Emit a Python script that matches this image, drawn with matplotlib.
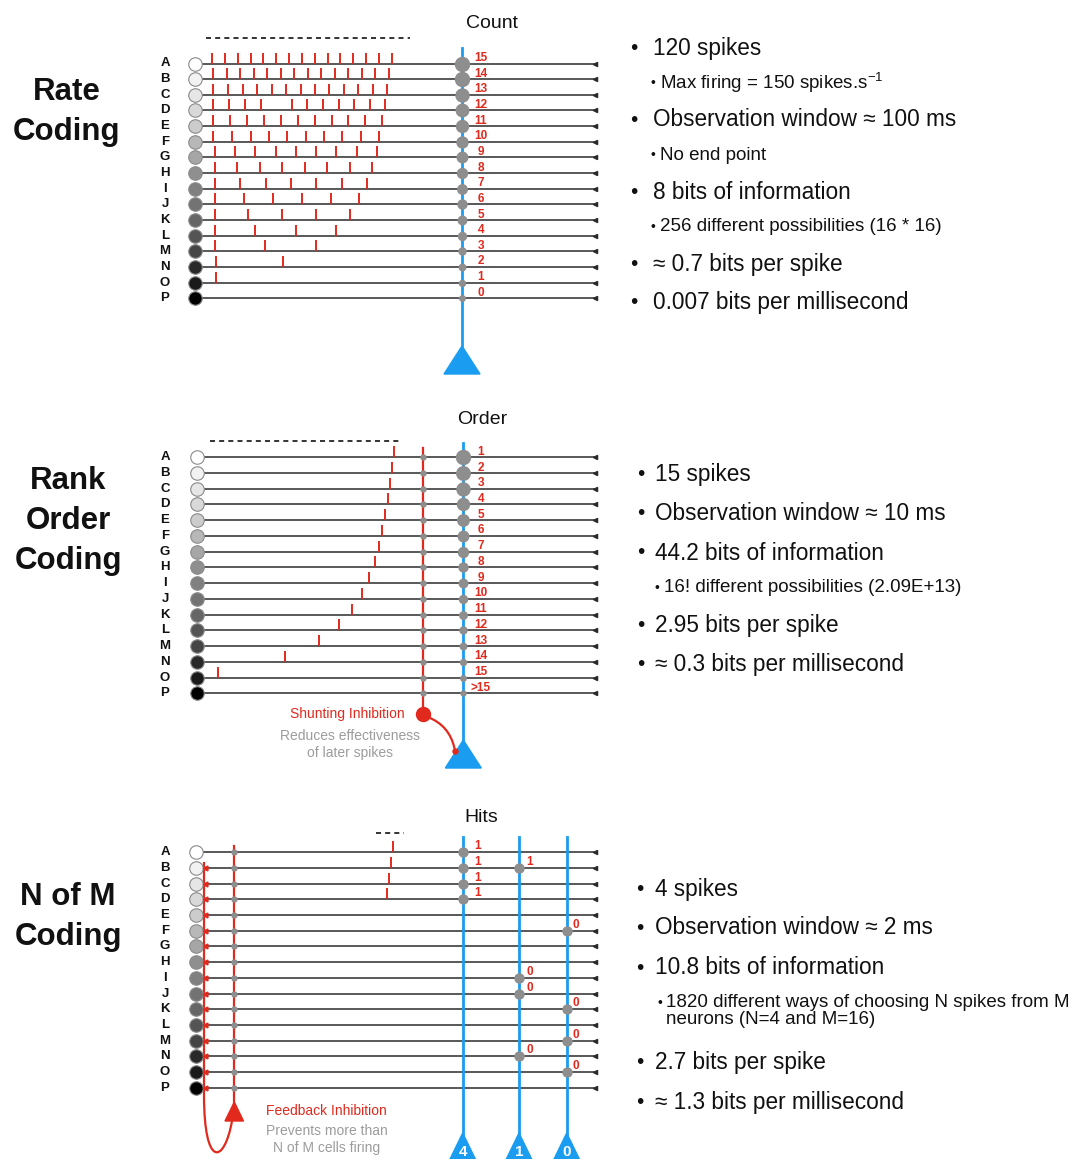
import matplotlib.pyplot as plt
from matplotlib.path import Path
from matplotlib.patches import PathPatch, Polygon, FancyArrowPatch

plt.rcParams['font.family'] = ['Liberation Sans', 'DejaVu Sans']
plt.rcParams['mathtext.fontset'] = 'custom'
plt.rcParams['mathtext.rm'] = 'Liberation Sans'

RED = '#e2291d'
BLUE = '#1a9cf0'
DOT = '#8e8e8e'
LINE = '#2b2b2b'
GRAYTXT = '#9c9c9c'
TXT = '#111111'

# ---- data ----
rows = list('ABCDEFGHIJKLMNOP')
row_fill = [1.0, 0.95, 0.90, 0.85, 0.80, 0.72, 0.65, 0.56, 0.50, 0.45, 0.40, 0.33, 0.27, 0.16, 0.10, 0.0]

# rate coding: spike x positions (px) per neuron
rate_spikes = [
    [211.7, 225, 237.7, 250.7, 263.3, 276, 289, 301.7, 314.7, 327.7, 340.3, 353.3, 366, 379, 392],
    [213.3, 226.7, 240, 253.7, 267, 280.7, 294, 307.7, 321, 334.7, 348, 361.7, 375.3, 389],
    [213.3, 228.3, 242.7, 257, 271.7, 286, 300.7, 315, 329.3, 344, 358.3, 373, 387.3],
    [213.3, 229.3, 245, 260.7, 292.3, 307.3, 323, 338.7, 354, 369.7, 385.3],
    [213.3, 230, 247, 264, 280.7, 297.7, 314.7, 331.7, 348.3, 365.3, 382.3],
    [213.3, 232, 250.7, 269, 287.3, 305.7, 324, 342.3, 361, 379.3],
    [215, 235, 255.3, 275.7, 295.7, 316, 336.3, 356.7, 377],
    [215, 237.3, 259.7, 282.3, 304.7, 327, 349.7, 372.3],
    [215, 240.3, 265.7, 291, 316.3, 341.7, 367],
    [215, 243.7, 272.7, 301.7, 330.7, 359.3],
    [215, 248.3, 282.3, 316, 349.7],
    [215, 255.3, 295.7, 336],
    [215, 265.3, 316.3],
    [215.7, 283.3],
    [215.7],
    [],
]
rate_counts = ['15', '14', '13', '12', '11', '10', '9', '8', '7', '6', '5', '4', '3', '2', '1', '0']
rate_dot = [14, 14, 13, 12.5, 12, 11, 10.5, 10, 9.5, 9, 8.5, 8, 7, 6.5, 6, 5.5]

# rank order coding: one spike per neuron (px), P never fires
rank_spikes = [394.3, 391.7, 389.7, 387.7, 385, 382, 379.3, 375, 369.3, 362, 352, 339, 318.7, 285.3, 218.3, None]
rank_labels = ['1', '2', '3', '4', '5', '6', '7', '8', '9', '10', '11', '12', '13', '14', '15', '>15']
rank_dot = [14, 13.5, 13, 12, 11.5, 10.5, 10, 9, 8.5, 8, 7.5, 7, 6.5, 6, 5.5, 5]

# N of M coding
nofm_spikes = [393.3, 390.7, 388.7, 387.3]          # rows A-D
hit_x = [462.7, 519, 566.7]
hit_names = ['4', '1', '0']
hit_rows = [['A', 'B', 'C', 'D'], ['B', 'I', 'J', 'N'], ['F', 'K', 'M', 'O']]
hit_vals = [['1', '1', '1', '1'], ['1', '0', '0', '0'], ['0', '0', '0', '0']]
hit_lbl_dx = [15, 11, 9]

rate_text = [(48, 0, '120 spikes'), (83, 1, 'Max firing = 150 spikes.s$^{\\mathregular{-1}}$'),
             (120, 0, 'Observation window \u2248 100 ms'), (155, 1, 'No end point'),
             (192.5, 0, '8 bits of information'), (226.5, 1, '256 different possibilities (16 * 16)'),
             (264, 0, '\u2248 0.7 bits per spike'), (303, 0, '0.007 bits per millisecond')]
rank_text = [(475, 0, '15 spikes'), (513.5, 0, 'Observation window \u2248 10 ms'),
             (553, 0, '44.2 bits of information'), (588, 1, '16! different possibilities (2.09E+13)'),
             (625.5, 0, '2.95 bits per spike'), (665, 0, '\u2248 0.3 bits per millisecond')]
nofm_text = [(889.5, 0, '4 spikes'), (928, 0, 'Observation window \u2248 2 ms'),
             (968, 0, '10.8 bits of information'), (1002.5, 1, '1820 different ways of choosing N spikes from M'),
             (1020, 2, 'neurons (N=4 and M=16)'),
             (1062.5, 0, '2.7 bits per spike'), (1102.5, 0, '\u2248 1.3 bits per millisecond')]

fig = plt.figure(figsize=(10.79, 11.59), dpi=100)
ax = fig.add_axes([0, 0, 1, 1])
ax.set_xlim(0, 1079)
ax.set_ylim(1159, 0)
ax.axis('off')

PX = 0.72  # points per pixel at 100 dpi


def row_block(top, step, cx):
    ys = [top + i * step for i in range(16)]
    for i, y in enumerate(ys):
        ax.plot([cx, 595], [y, y], color=LINE, lw=1.1, zorder=1)
        ax.plot(595, y, marker='<', ms=3, color=LINE, zorder=1)
        g = row_fill[i]
        ax.plot(cx, y, 'o', ms=13.5 * PX, mfc=(g, g, g), mec='#8a8a8a', mew=0.8, zorder=5)
        ax.text(165, y, rows[i], ha='center', va='center', fontsize=9.5, fontweight='bold', color=TXT)
    return ys


def bullets(items, bx, tx, sbx, stx):
    for y, lvl, s in items:
        if lvl == 0:
            ax.text(bx, y, '\u2022', ha='center', va='center', fontsize=15, color=TXT)
            ax.text(tx, y, s, ha='left', va='center', fontsize=16.3, color=TXT)
        else:
            if lvl == 1:
                ax.text(sbx, y, '\u2022', ha='center', va='center', fontsize=10, color=TXT)
            ax.text(stx, y, s, ha='left', va='center', fontsize=13.5, color=TXT)


def neuron(x, top, apex, base, hw, label=None):
    ax.plot([x, x], [top, apex + 2], color=BLUE, lw=2, zorder=2)
    ax.add_patch(Polygon([(x - hw, base), (x + hw, base), (x, apex)], closed=True, color=BLUE, zorder=6))
    if label is not None:
        ax.text(x, apex + 19, label, ha='center', va='center', color='white', fontsize=11,
                fontweight='bold', zorder=7)


# ---------- Rate coding ----------
for s, y in zip(['Rate', 'Coding'], [92, 132]):
    ax.text(67, y, s, ha='center', va='center', fontsize=22.5, fontweight='bold', color=TXT)
ax.text(492, 23, 'Count', ha='center', va='center', fontsize=14, color=TXT)
ax.plot([206, 410], [38, 38], color=TXT, lw=1.2, ls=(0, (3, 2.5)))
ys = row_block(63.5, 15.65, 195)
neuron(462, 48, 346, 374, 18)
for i, y in enumerate(ys):
    ax.vlines(rate_spikes[i], y - 11, y, color=RED, lw=1.4, zorder=3)
    ax.plot(462, y, 'o', ms=rate_dot[i] * PX, color=DOT, zorder=5)
    ax.text(481, y - 5.5, rate_counts[i], ha='center', va='center', fontsize=8.5, fontweight='bold', color=RED)
bullets(rate_text, 633.5, 653, 652.5, 660)

# ---------- Rank order coding ----------
for s, y in zip(['Rank', 'Order', 'Coding'], [481, 521, 561]):
    ax.text(68, y, s, ha='center', va='center', fontsize=22.5, fontweight='bold', color=TXT)
ax.text(482, 420, 'Order', ha='center', va='center', fontsize=14, color=TXT)
ax.plot([210, 402], [441, 441], color=TXT, lw=1.2, ls=(0, (3, 2.5)))
ys = row_block(457.3, 15.73, 196.5)
neuron(463.3, 443, 740, 768, 18)
ax.plot([423.3, 423.3], [448, 714], color=RED, lw=1.6, zorder=2)
ax.plot(423.3, 714, 'o', ms=14 * PX, color=RED, zorder=6)
for i, y in enumerate(ys):
    if rank_spikes[i] is not None:
        ax.vlines(rank_spikes[i], y - 11, y, color=RED, lw=1.4, zorder=3)
    ax.plot(423.3, y, 'o', ms=5 * PX, color=DOT, zorder=5)
    ax.plot(463.3, y, 'o', ms=rank_dot[i] * PX, color=DOT, zorder=5)
    ax.text(481, y - 5.5, rank_labels[i], ha='center', va='center', fontsize=8.5, fontweight='bold', color=RED)
ax.add_patch(FancyArrowPatch((425, 716), (455, 751), connectionstyle='arc3,rad=-0.3',
                             arrowstyle='-', color=RED, lw=1.6, zorder=5))
ax.plot(455, 751, 'o', ms=5 * PX, color=RED, zorder=7)
ax.text(405, 714, 'Shunting Inhibition', ha='right', va='center', fontsize=10, color=RED)
ax.text(350, 736, 'Reduces effectiveness', ha='center', va='center', fontsize=10, color=GRAYTXT)
ax.text(350, 753, 'of later spikes', ha='center', va='center', fontsize=10, color=GRAYTXT)
bullets(rank_text, 640.5, 655, 657, 663.5)

# ---------- N of M coding ----------
for s, y in zip(['N of M', 'Coding'], [897, 937]):
    ax.text(68, y, s, ha='center', va='center', fontsize=22.5, fontweight='bold', color=TXT)
ax.text(481, 818, 'Hits', ha='center', va='center', fontsize=14, color=TXT)
ax.plot([376, 404], [833, 833], color=TXT, lw=1.2, ls=(0, (3, 2.5)))
ys = row_block(852.3, 15.69, 196)
for x, nm in zip(hit_x, hit_names):
    neuron(x, 837, 1133, 1168, 17, nm)
for i, x in enumerate(nofm_spikes):
    ax.vlines(x, ys[i] - 11, ys[i], color=RED, lw=1.4, zorder=3)
for k, x in enumerate(hit_x):
    for r, v in zip(hit_rows[k], hit_vals[k]):
        y = ys[rows.index(r)]
        ax.plot(x, y, 'o', ms=9 * PX, color=DOT, zorder=5)
        ax.text(x + hit_lbl_dx[k], y - 6, v, ha='center', va='center', fontsize=8.5, fontweight='bold', color=RED)
# feedback inhibition
ax.plot([234.3, 234.3], [846, 1104], color=RED, lw=1.6, zorder=2)
ax.add_patch(Polygon([(225, 1121), (243.5, 1121), (234.3, 1102)], closed=True, color=RED, zorder=6))
for y in ys:
    ax.plot(234.3, y, 'o', ms=5 * PX, color=DOT, zorder=5)
for y in ys[1:]:
    ax.plot(205, y, marker='<', ms=3.5, color=RED, zorder=6)
fb = Path([(204, 862), (204, 1095), (204, 1168), (224, 1165), (232, 1121)],
          [Path.MOVETO, Path.LINETO, Path.CURVE4, Path.CURVE4, Path.CURVE4])
ax.add_patch(PathPatch(fb, fc='none', ec=RED, lw=1.6, zorder=4))
ax.text(266, 1111, 'Feedback Inhibition', ha='left', va='center', fontsize=10, color=RED)
ax.text(327, 1131, 'Prevents more than', ha='center', va='center', fontsize=10, color=GRAYTXT)
ax.text(327, 1148, 'N of M cells firing', ha='center', va='center', fontsize=10, color=GRAYTXT)
bullets(nofm_text, 640, 655, 660, 666.5)

fig.savefig('out.png', dpi=100)
